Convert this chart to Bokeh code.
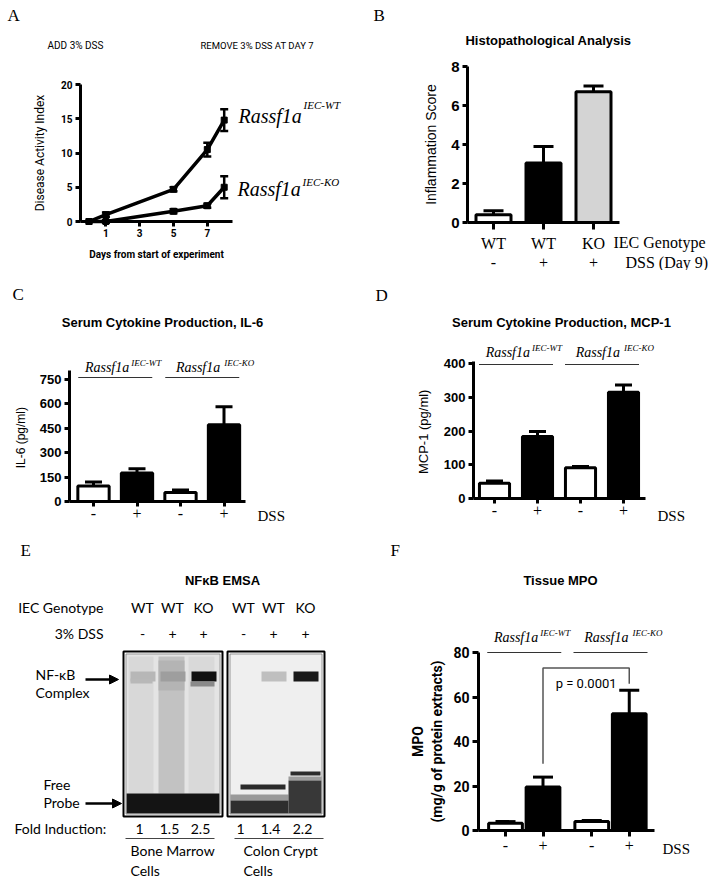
from bokeh.plotting import figure
from bokeh.layouts import column, row
from bokeh.models import (Range1d, FixedTicker, Label, Whisker, TeeHead, ColumnDataSource,
                          Arrow, NormalHead)
from bokeh.embed import file_html
from bokeh.resources import INLINE

# ---------------- data ----------------
# A: disease activity index
days = [0, 1, 5, 7, 8]
dai_wt = [0.0, 1.0, 4.7, 10.5, 14.8]
dai_wt_err = [0.0, 0.3, 0.3, 1.0, 1.6]
dai_ko = [0.0, 0.0, 1.5, 2.3, 5.0]
dai_ko_err = [0.0, 0.2, 0.3, 0.3, 1.6]
a_xticks = [1, 3, 5, 7]
a_yticks = [0, 5, 10, 15, 20]

# B: histopathology
b_genotype = ["WT", "WT", "KO"]
b_dss = ["-", "+", "+"]
b_score = [0.4, 3.05, 6.7]
b_err = [0.2, 0.85, 0.3]
b_yticks = [0, 2, 4, 6, 8]

# C / D / F: groups
grp_genotype = ["WT", "WT", "KO", "KO"]
grp_dss = ["-", "+", "-", "+"]
il6 = [95, 175, 55, 470]
il6_err = [25, 25, 15, 110]
c_yticks = [0, 150, 300, 450, 600, 750]
mcp1 = [45, 184, 91, 315]
mcp1_err = [7, 15, 4, 22]
d_yticks = [0, 100, 200, 300, 400]
mpo = [3.3, 19.5, 4.0, 52.5]
mpo_err = [0.7, 4.5, 0.5, 10.5]
f_yticks = [0, 20, 40, 60, 80]
p_value = "p = 0.0001"

# E: EMSA
emsa_genotype = ["WT", "WT", "KO", "WT", "WT", "KO"]
emsa_dss = ["-", "+", "+", "-", "+", "+"]
emsa_fold = ["1", "1.5", "2.5", "1", "1.4", "2.2"]
emsa_band = [0.28, 0.38, 0.93, 0.0, 0.25, 0.9]
emsa_cells = ["Bone Marrow\nCells", "Colon Crypt\nCells"]

# ---------------- styles ----------------
SANS = "Liberation Sans"
SERIF = "Liberation Serif"
NARROW = "Roboto"
GEL = "Lato"


def make_fig(ox, oy, w, h, xmap, ymap):
    """xmap/ymap = (data value, page pixel, pixels per unit)."""
    xv, xp, kx = xmap
    yv, yp, ky = ymap
    x0 = xv - (xp - ox) / kx
    y0 = yv - (oy + h - yp) / ky
    p = figure(width=w, height=h, x_range=Range1d(x0, x0 + w / kx),
               y_range=Range1d(y0, y0 + h / ky), min_border=0,
               min_border_left=0, min_border_right=0, min_border_top=0, min_border_bottom=0,
               output_backend="svg", toolbar_location=None)
    p.outline_line_color = None
    p.xgrid.visible = False
    p.ygrid.visible = False
    p.background_fill_color = "white"
    p.border_fill_color = "white"

    def m(px, py):
        return (xv + (px - xp) / kx, yv + (yp - py) / ky)
    return p, m, kx


def style_axis(ax, font, size, fstyle="bold", lw=3, tick_out=6, standoff=3):
    ax.axis_line_width = lw
    ax.axis_line_color = "black"
    ax.major_tick_line_width = lw
    ax.major_tick_line_color = "black"
    ax.major_tick_out = tick_out
    ax.major_tick_in = 0
    ax.minor_tick_line_color = None
    ax.major_label_text_font = font
    ax.major_label_text_font_size = f"{size}px"
    ax.major_label_text_font_style = fstyle
    ax.major_label_text_color = "black"
    ax.major_label_standoff = standoff


def place_axes(p, xb, yb):
    p.xaxis.fixed_location = yb[0]
    p.xaxis.bounds = xb
    p.yaxis.fixed_location = xb[0]
    p.yaxis.bounds = yb


def axis_title(ax, text, font, size, fstyle="normal", standoff=8):
    ax.axis_label = text
    ax.axis_label_text_font = font
    ax.axis_label_text_font_size = f"{size}px"
    ax.axis_label_text_font_style = fstyle
    ax.axis_label_text_color = "black"
    ax.axis_label_standoff = standoff


def lab(p, x, y, text, size, font=SANS, fstyle="normal", align="left", xoff=0, color="black"):
    p.add_layout(Label(x=x, y=y, text=text, text_font=font, text_font_size=f"{size}px",
                       text_font_style=fstyle, text_align=align, text_baseline="middle",
                       x_offset=xoff, text_color=color))


def bars(p, xs, vals, errs, fills, width, cap=18):
    src = ColumnDataSource(dict(x=xs, top=vals, fill=fills,
                                up=[v + e for v, e in zip(vals, errs)]))
    p.add_layout(Whisker(base="x", lower="top", upper="up", source=src, line_width=3,
                         line_color="black", level="underlay",
                         upper_head=TeeHead(size=cap, line_width=3, line_color="black"),
                         lower_head=None))
    p.vbar(x="x", top="top", width=width, bottom=0, fill_color="fill", line_color="black",
           line_width=3, source=src)


def group_labels(p, m, kx, xs, py_line, py_main, py_sup):
    yl = m(0, py_line)[1]
    ym = m(0, py_main)[1]
    ys = m(0, py_sup)[1]
    half = 37 / kx
    for (a, b), sup, o1, o2 in (((0, 1), "IEC-WT", 14, 16), ((2, 3), "IEC-KO", 18, 22)):
        c = (xs[a] + xs[b]) / 2
        p.segment(x0=[c - half], x1=[c + half], y0=[yl], y1=[yl], line_color="#333333",
                  line_width=1.2)
        lab(p, c, ym, "Rassf1a", 14, SERIF, "italic", "right", xoff=o1)
        lab(p, c, ys, sup, 9, SERIF, "italic", "left", xoff=o2)


# ---------------- Panel A ----------------
pA, mA, kA = make_fig(0, 0, 360, 270, (0, 88.5, 16.9), (0, 221, 6.85))
style_axis(pA.xaxis[0], NARROW, 10, standoff=2, tick_out=5)
style_axis(pA.yaxis[0], NARROW, 10, standoff=3, tick_out=5)
place_axes(pA, (-0.5, 8.5), (0, 20))
pA.xaxis.ticker = FixedTicker(ticks=a_xticks)
pA.yaxis.ticker = FixedTicker(ticks=a_yticks)
axis_title(pA.xaxis[0], "Days from start of experiment", NARROW, 10, "bold", 9)
axis_title(pA.yaxis[0], "Disease Activity Index", NARROW, 12, "normal", 11)
for ys, es in ((dai_wt, dai_wt_err), (dai_ko, dai_ko_err)):
    pA.line(days, ys, line_width=3.5, line_color="black")
    pA.scatter(days, ys, marker="square", size=6, color="black")
    keep = [i for i, e in enumerate(es) if e > 0]
    src = ColumnDataSource(dict(x=[days[i] for i in keep],
                                lo=[ys[i] - es[i] for i in keep],
                                hi=[ys[i] + es[i] for i in keep]))
    pA.add_layout(Whisker(base="x", lower="lo", upper="hi", source=src, line_width=2.5,
                          line_color="black",
                          upper_head=TeeHead(size=8, line_width=2.5, line_color="black"),
                          lower_head=TeeHead(size=8, line_width=2.5, line_color="black")))
lab(pA, *mA(7, 15), "A", 17, SERIF)
lab(pA, *mA(47, 45), "ADD 3% DSS", 10, NARROW)
lab(pA, *mA(200, 45), "REMOVE 3% DSS AT DAY  7", 9.5, NARROW)
lab(pA, *mA(238, 115), "Rassf1a", 20, SERIF, "italic")
lab(pA, *mA(303, 104), "IEC-WT", 11, SERIF, "italic")
lab(pA, *mA(237, 188), "Rassf1a", 20, SERIF, "italic")
lab(pA, *mA(302, 181), "IEC-KO", 11, SERIF, "italic")

# ---------------- Panel B ----------------
pB, mB, kB = make_fig(360, 0, 356, 270, (0, 493, 50), (0, 222, 19.5))
b_x = [0, 1, 2]
style_axis(pB.xaxis[0], SERIF, 16, "normal", standoff=5, tick_out=7)
style_axis(pB.yaxis[0], SANS, 15, standoff=3, tick_out=5)
place_axes(pB, (-0.52, 2.52), (0, 8))
pB.xaxis.ticker = FixedTicker(ticks=b_x)
pB.xaxis.major_label_overrides = {x: g for x, g in zip(b_x, b_genotype)}
pB.yaxis.ticker = FixedTicker(ticks=b_yticks)
axis_title(pB.yaxis[0], "Inflammation Score", SANS, 14, "normal", 9)
bars(pB, b_x, b_score, b_err, ["white", "black", "#d4d4d4"], 0.7, cap=20)
lab(pB, *mB(373, 15), "B", 17, SERIF)
lab(pB, *mB(548, 40), "Histopathological Analysis", 13, SANS, "bold", "center")
lab(pB, *mB(613, 242), "IEC Genotype", 16, SERIF)
lab(pB, *mB(625, 262), "DSS (Day 9)", 16, SERIF)
for x, s in zip(b_x, b_dss):
    lab(pB, x, mB(0, 262)[1], s, 16, SERIF, align="center")

# ---------------- Panel C ----------------
grp_x = [i for i in range(4)]
pC, mC, kC = make_fig(0, 270, 360, 260, (0, 93, 43.5), (0, 501, 0.1633))
style_axis(pC.xaxis[0], SERIF, 16, "normal", standoff=1, tick_out=5)
style_axis(pC.yaxis[0], SANS, 13, standoff=3, tick_out=5)
place_axes(pC, (-0.552, 3.494), (0, 805))
pC.xaxis.ticker = FixedTicker(ticks=grp_x)
pC.xaxis.major_label_overrides = {x: s for x, s in zip(grp_x, grp_dss)}
pC.yaxis.ticker = FixedTicker(ticks=c_yticks)
axis_title(pC.yaxis[0], "IL-6  (pg/ml)", SANS, 12, "normal", 9)
bars(pC, grp_x, il6, il6_err, ["white", "black", "white", "black"], 0.72, cap=17)
group_labels(pC, mC, kC, grp_x, 377, 367, 362)
lab(pC, *mC(12, 294), "C", 17, SERIF)
lab(pC, *mC(162, 322), "Serum Cytokine Production, IL-6", 13, SANS, "bold", "center")
lab(pC, *mC(257, 515), "DSS", 15, SERIF)

# ---------------- Panel D ----------------
pD, mD, kD = make_fig(360, 270, 356, 260, (0, 494, 43), (0, 498, 0.337))
style_axis(pD.xaxis[0], SERIF, 16, "normal", standoff=1, tick_out=5)
style_axis(pD.yaxis[0], SANS, 13, standoff=3, tick_out=5)
place_axes(pD, (-0.488, 3.512), (0, 406))
pD.xaxis.ticker = FixedTicker(ticks=grp_x)
pD.xaxis.major_label_overrides = {x: s for x, s in zip(grp_x, grp_dss)}
pD.yaxis.ticker = FixedTicker(ticks=d_yticks)
axis_title(pD.yaxis[0], "MCP-1  (pg/ml)", SANS, 13, "normal", 10)
bars(pD, grp_x, mcp1, mcp1_err, ["white", "black", "white", "black"], 0.7, cap=17)
group_labels(pD, mD, kD, grp_x, 364, 352, 347)
lab(pD, *mD(375, 295), "D", 17, SERIF)
lab(pD, *mD(561, 322), "Serum Cytokine Production, MCP-1", 13, SANS, "bold", "center")
lab(pD, *mD(657, 515), "DSS", 15, SERIF)

# ---------------- Panel E (EMSA gel) ----------------
pE, mE, _ = make_fig(0, 530, 360, 349, (0, 0, 1), (0, 0, -1))
pE.xaxis.visible = False
pE.yaxis.visible = False
lane_x = [142, 172, 203, 243, 273, 305]
gels = [(123, 222), (227, 324)]
g_top, g_bot = 651, 816
# gel backgrounds
pE.quad(left=[126, 230], right=[219, 321], top=[654, 654], bottom=[813, 813],
        fill_color=["#e4e4e4", "#efefef"], line_color=None)
# lane smears (bone marrow gel)
pE.quad(left=[128, 158, 188], right=[153, 184, 214], top=[656] * 3, bottom=[793] * 3,
        fill_color=["#d8d8d8", "#c2c2c2", "#d9d9d9"], line_color=None)
pE.quad(left=[158], right=[184], top=[660], bottom=[690], fill_color="#b4b4b4",
        line_color=None)
# NF-kB complex bands
band_col = ["#%02x%02x%02x" % ((int(255 * (1 - d)),) * 3) for d in emsa_band]
keepb = [i for i, d in enumerate(emsa_band) if d > 0]
pE.quad(left=[lane_x[i] - 12 for i in keepb], right=[lane_x[i] + 13 for i in keepb],
        top=[671] * len(keepb), bottom=[681] * len(keepb),
        fill_color=[band_col[i] for i in keepb], line_color=None)
pE.quad(left=[130, 190], right=[152, 214], top=[678, 681], bottom=[683, 686],
        fill_color=["#b8b8b8", "#8a8a8a"], line_color=None)
# free probe, bone marrow
pE.quad(left=[126], right=[219], top=[793], bottom=[813], fill_color="#141414",
        line_color=None)
# free probe, colon crypt
pE.quad(left=[230, 230, 288, 288], right=[288, 288, 321, 321],
        top=[794, 800, 776, 780], bottom=[800, 813, 780, 813],
        fill_color=["#9a9a9a", "#2e2e2e", "#9c9c9c", "#383838"], line_color=None)
pE.quad(left=[240, 290], right=[285, 320], top=[784, 771], bottom=[789, 775],
        fill_color=["#2a2a2a", "#2c2c2c"], line_color=None)
# gel frames
pE.quad(left=[g[0] for g in gels], right=[g[1] for g in gels], top=[g_top] * 2,
        bottom=[g_bot] * 2, fill_color=None, line_color="black", line_width=2)
pE.quad(left=[g[0] + 2.5 for g in gels], right=[g[1] - 2.5 for g in gels],
        top=[g_top + 2.5] * 2, bottom=[g_bot - 2.5] * 2, fill_color=None,
        line_color="#777777", line_width=0.8)
for y, x1 in ((679, 118), (803, 121)):
    pE.add_layout(Arrow(end=NormalHead(size=9, fill_color="black", line_color="black"),
                        x_start=85, y_start=y, x_end=x1, y_end=y, line_width=2.5,
                        line_color="black"))
pE.segment(x0=[125, 234], x1=[214, 323], y0=[838, 838], y1=[838, 838],
           line_color="#444444", line_width=1.2)
lab(pE, 20, 550, "E", 17, SERIF)
lab(pE, 222, 580, "NFκB EMSA", 13, SANS, "bold", "center")
lab(pE, 103, 607, "IEC Genotype", 14, GEL, align="right")
lab(pE, 103, 633, "3% DSS", 14, GEL, align="right")
for x, g, s, f in zip(lane_x, emsa_genotype, emsa_dss, emsa_fold):
    lab(pE, x, 607, g, 14, GEL, align="center")
    lab(pE, x, 633, s, 14, GEL, align="center")
    lab(pE, x - 3, 828, f, 14, GEL, align="center")
lab(pE, 35, 674, "NF-κB", 14, GEL)
lab(pE, 35, 692, "Complex", 14, GEL)
lab(pE, 43, 784, "Free", 14, GEL)
lab(pE, 43, 802, "Probe", 14, GEL)
lab(pE, 14, 828, "Fold Induction:", 14, GEL)
for x, t in zip((130, 243), emsa_cells):
    lab(pE, x, 860, t, 14, GEL)

# ---------------- Panel F ----------------
f_x = [i + 0.3 * (i // 2) for i in range(4)]
pF, mF, kF = make_fig(360, 530, 356, 349, (0, 505, 37.5), (0, 830, 2.225))
style_axis(pF.xaxis[0], SERIF, 16, "normal", standoff=3, tick_out=6)
style_axis(pF.yaxis[0], NARROW, 14, standoff=3, tick_out=6)
place_axes(pF, (-0.72, 3.973), (0, 80))
pF.xaxis.ticker = FixedTicker(ticks=f_x)
pF.xaxis.major_label_overrides = {x: s for x, s in zip(f_x, grp_dss)}
pF.yaxis.ticker = FixedTicker(ticks=f_yticks)
axis_title(pF.yaxis[0], "MPO\n(mg/g of protein extracts)", NARROW, 14, "bold", 5)
bars(pF, f_x, mpo, mpo_err, ["white", "black", "white", "black"], 0.9, cap=20)
group_labels(pF, mF, kF, f_x, 652, 637, 632)
bracket_top = 73
pF.line([f_x[1], f_x[1], f_x[3], f_x[3]],
        [mpo[1] + mpo_err[1] + 6, bracket_top, bracket_top, mpo[3] + mpo_err[3] + 3],
        line_color="#555555", line_width=1.5)
lab(pF, (f_x[1] + f_x[3]) / 2, 66, p_value, 13, NARROW, align="center")
lab(pF, *mF(390, 550), "F", 17, SERIF)
lab(pF, *mF(560, 580), "Tissue MPO", 13, SANS, "bold", "center")
lab(pF, *mF(662, 848), "DSS", 15, SERIF)

layout = column(row(pA, pB), row(pC, pD), row(pE, pF))
open("out.html", "w").write(file_html(layout, INLINE))
